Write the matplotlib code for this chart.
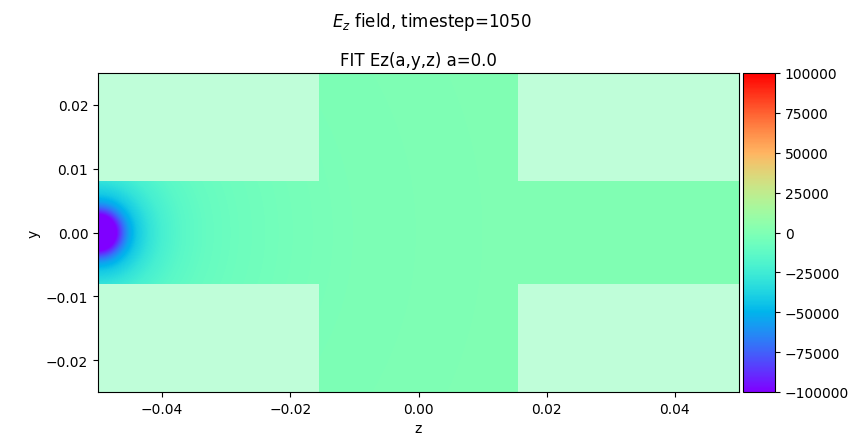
import numpy as np
import matplotlib
matplotlib.use("Agg")
import matplotlib.pyplot as plt

# beam pipe geometry (m)
z_min, z_max = -0.05, 0.05
y_min, y_max = -0.025, 0.025
pipe_half = 0.008      # half height of the beam pipe
cavity_half = 0.0155   # half length of the cavity gap

# Ez falloff around the source at the left port, distance from (z=-0.05, y=0)
r_prof = [0.0, 0.0026, 0.0032, 0.0040, 0.0048, 0.006, 0.008, 0.010, 0.013, 0.017, 0.022, 0.030, 0.040, 0.060]
ez_prof = [-140000, -105000, -90000, -70000, -55000, -42000, -30000, -22000, -15000, -10000, -7000, -4000, -1500, 0]

timestep = 1050
a_val = 0.0

nz, ny = 641, 321
z = np.linspace(z_min, z_max, nz)
y = np.linspace(y_min, y_max, ny)
Z, Y = np.meshgrid(z, y)
R = np.hypot(Z - z_min, Y)

inside = (np.abs(Y) <= pipe_half) | (np.abs(Z) <= cavity_half)
ez = np.interp(R, r_prof, ez_prof)
ez_in = np.ma.masked_where(~inside, ez)
ez_out = np.zeros_like(ez)

fig = plt.figure(figsize=(8.64, 4.39), dpi=100)
ax = fig.add_axes([98/864, 1-393/439, 641/864, 319/439])
cax = fig.add_axes([743/864, 1-393/439, 32/864, 319/439])

ext = [z_min, z_max, y_min, y_max]
ax.imshow(ez_out, extent=ext, origin="lower", cmap="rainbow",
          vmin=-100000, vmax=100000, alpha=0.5, aspect="auto")
im = ax.imshow(ez_in, extent=ext, origin="lower", cmap="rainbow",
               vmin=-100000, vmax=100000, aspect="auto", interpolation="nearest")
ax.set_xlim(z_min, z_max)
ax.set_ylim(y_min, y_max)
ax.set_xlabel("z")
ax.set_ylabel("y")
ax.set_title("FIT Ez(a,y,z) a=%.1f" % a_val)

fig.colorbar(im, cax=cax)
fig.suptitle("$E_z$ field, timestep=%d" % timestep, y=0.975)

plt.savefig("out.png")
